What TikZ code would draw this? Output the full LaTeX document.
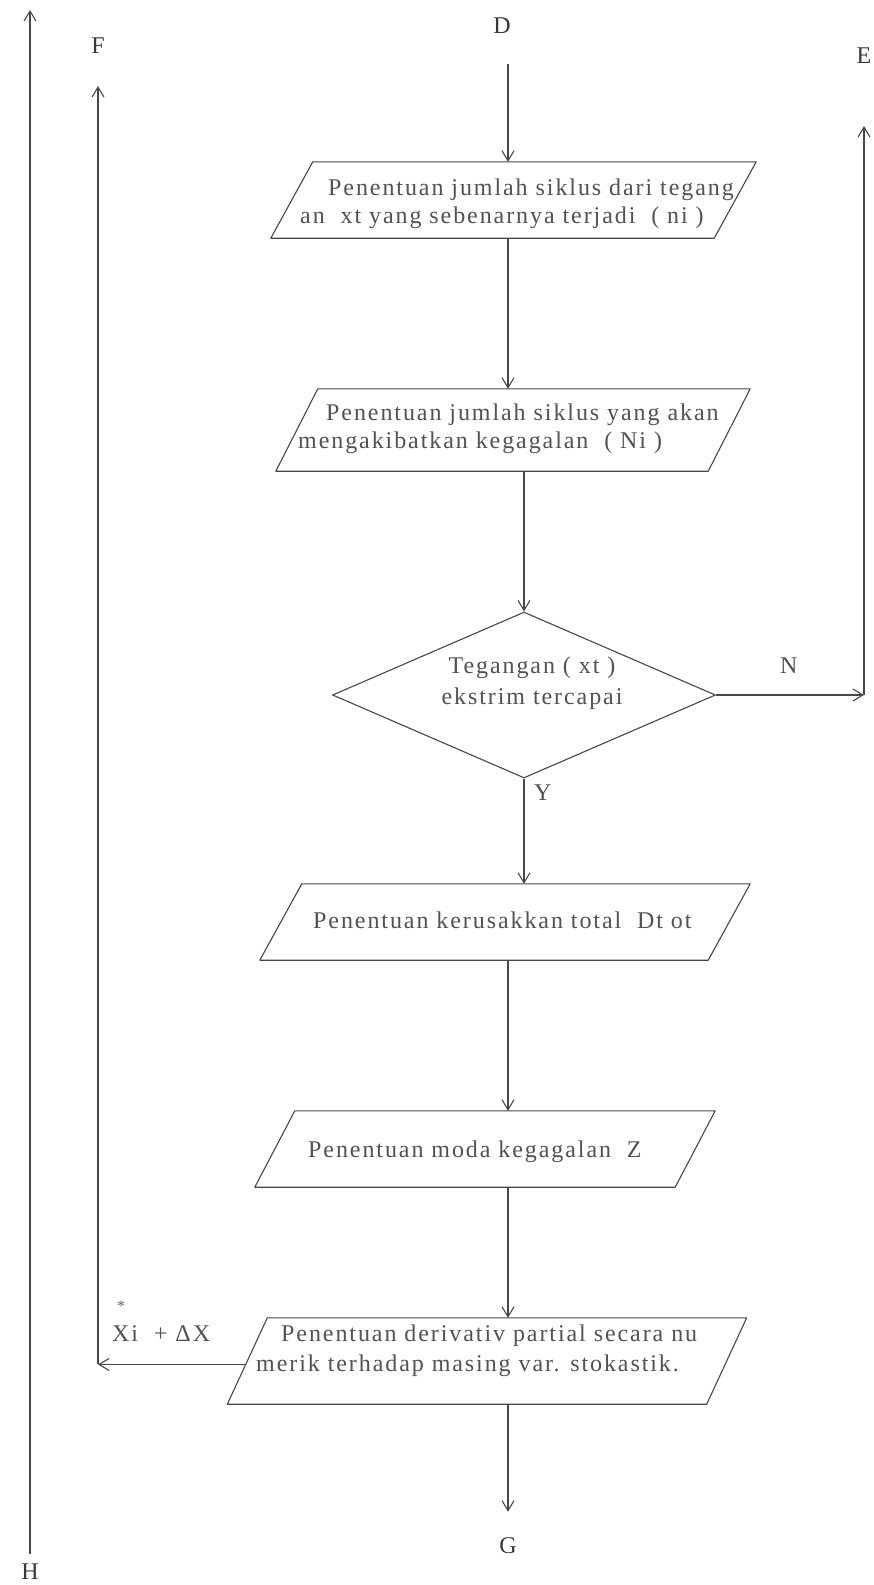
\documentclass[tikz,border=0pt]{standalone}
\usepackage{fontspec}
\setmainfont{Liberation Serif}
\usetikzlibrary{shapes.geometric,arrows.meta,calc}
\begin{document}
\begin{tikzpicture}[x=1pt,y=-1pt,
  ink/.style={draw=black!72, line width=1.1pt},
  arr/.style={ink, -{Straight Barb[length=10pt,width=12pt,line width=1.1pt]}},
  iobox/.style={rectangle, draw=none, inner sep=0pt},
  decision/.style={diamond, draw=black!72, line width=1.1pt, inner sep=0pt},
  txt/.style={text=black!68, inner sep=0pt, anchor=base west,
    font=\fontsize{24}{30}\selectfont\addfontfeature{LetterSpace=8}},
  ctxt/.style={txt, anchor=base},
  lbl/.style={text=black!78, inner sep=0pt, font=\fontsize{24}{28}\selectfont}
]
\useasboundingbox (0,0) rectangle (874,1585);
\fill[white] (0,0) rectangle (874,1585);

% off-page connector labels
\node[lbl] (D) at (502,26) {D};
\node[lbl] (E) at (864,56) {E};
\node[lbl] (F) at (98,46) {F};
\node[lbl] (G) at (508,1546) {G};
\node[lbl] (H) at (30,1572) {H};

% process boxes (body rectangles; slanted outlines drawn below)
\node[iobox, minimum width=443, minimum height=76] (b1) at (513.5,200) {};
\node[iobox, minimum width=432, minimum height=82] (b2) at (513,430) {};
\node[decision, minimum width=383, minimum height=166] (dia) at (524,695) {};
\node[iobox, minimum width=448, minimum height=76] (b3) at (505,922) {};
\node[iobox, minimum width=420, minimum height=76] (b4) at (485,1149) {};
\node[iobox, minimum width=479, minimum height=86] (b5) at (487,1361) {};

% parallelogram outlines of the input/output boxes
\foreach \n/\s in {b1/21,b2/21,b3/21,b4/20,b5/20}
  \draw[ink, line join=round]
    ($(\n.south west)+(-\s,0)$) -- ($(\n.north west)+(\s,0)$) --
    ($(\n.north east)+(\s,0)$) -- ($(\n.south east)+(-\s,0)$) -- cycle;

% box texts
\node[txt] (t1a) at (328,195) {Penentuan jumlah siklus dari tegang};
\node[txt] (t1b) at (300,223) {an\ \ xt yang sebenarnya terjadi\ \ ( ni )};
\node[txt] (t2a) at (326,420) {Penentuan jumlah siklus yang akan};
\node[txt] (t2b) at (298,448) {mengakibatkan kegagalan\ \ ( Ni )};
\node[ctxt] (tda) at (532,673) {Tegangan ( xt )};
\node[ctxt] (tdb) at (532,704) {ekstrim tercapai};
\node[txt] (t3) at (313,928) {Penentuan kerusakkan total\ \ Dt ot};
\node[txt] (t4) at (308,1157) {Penentuan moda kegagalan\ \ Z};
\node[txt] (t5a) at (281,1341) {Penentuan derivativ partial secara nu};
\node[txt] (t5b) at (256,1371) {merik terhadap masing var. stokastik.};

% branch labels
\node[txt] (N) at (780,673) {N};
\node[txt] (Y) at (534,800) {Y};
\node[txt] (dx) at (112,1341) {Xi\ \ + ΔX};
\node[inner sep=0pt, text=black!60, font=\fontsize{16}{16}\selectfont] (star) at (121,1306) {*};

% reference columns and free ends
\coordinate (ax) at (508,0);
\coordinate (Htop) at (30,10);
\coordinate (Ftop) at (98,86);
\coordinate (Etop) at (864,126);
\coordinate (b5bl) at ($(b5.south west)+(-20,0)$);
\coordinate (b5tl) at ($(b5.north west)+(20,0)$);
\coordinate (b5w) at ($(b5bl)!0.46!(b5tl)$);

% main flow
\draw[arr] (D.south -| ax) ++(0,30) coordinate (d0) -- (b1.north -| ax);
\draw[arr] (b1.south -| ax) -- (b2.north -| ax);
\draw[arr] (b2.south -| dia.north) -- (dia.north);
\draw[arr] (dia.south) -- (dia.south |- b3.north);
\draw[arr] (b3.south -| ax) -- (b4.north -| ax);
\draw[arr] (b4.south -| ax) -- (b5.north -| ax);
\draw[arr, shorten >=26pt] (b5.south -| ax) -- (G.north -| ax);

% branch N to E
\draw[arr] (dia.east) -- (dia.east -| Etop) coordinate (eN);
\draw[arr] (eN) -- (Etop);

% loop back to F
\draw[arr] (b5w) -- (b5w -| Ftop) coordinate (fC);
\draw[arr] (fC) -- (Ftop);

% return line to H
\draw[arr, shorten <=10pt] (H.north) -- (Htop);
\end{tikzpicture}
\end{document}
